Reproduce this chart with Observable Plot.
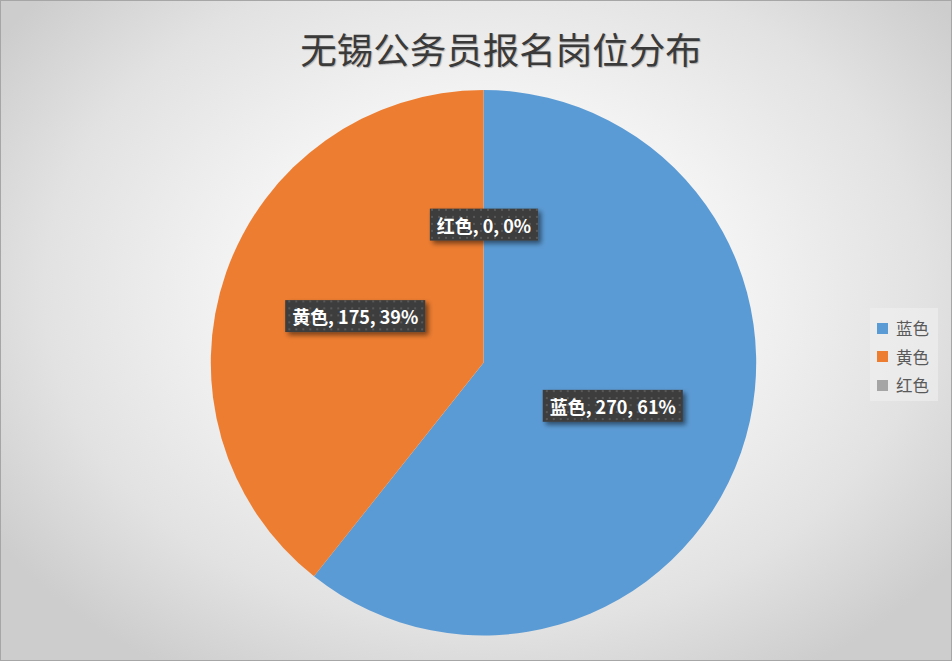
<!DOCTYPE html>
<html><head><meta charset="utf-8">
<script src="https://cdn.jsdelivr.net/npm/d3@7"></script>
<script src="https://cdn.jsdelivr.net/npm/@observablehq/plot@0.6"></script>
<style>
html,body{margin:0;padding:0;background:#fff;}
#chart{position:relative;width:950px;height:659px;border:1px solid #a6a6a6;
  background:radial-gradient(ellipse 62% 68% at 51% 44%, #ffffff 0%, #f7f7f7 35%, #e2e2e2 75%, #cdcdcd 100%);
  overflow:hidden;font-family:"Noto Sans CJK SC",sans-serif;}
#title{position:absolute;top:22px;left:200px;width:600px;text-align:center;font-size:36.5px;line-height:52px;color:#3a3a3a;
  text-shadow:1px 1px 1px rgba(0,0,0,0.25);white-space:nowrap;}
#plot{position:absolute;top:89px;left:-1px;}
#legend{position:absolute;left:869px;top:307px;width:68px;height:93px;background:rgba(240,240,240,0.6);}
.item{position:absolute;left:7px;height:20px;display:flex;align-items:center;font-size:16.5px;color:#595959;}
.sw{width:11px;height:11px;margin-right:8px;}
</style></head>
<body>
<div id="chart">
  <div id="title">无锡公务员报名岗位分布</div>
  <div id="plot"></div>
  <div id="legend"></div>
</div>
<script>
const categories = ["蓝色", "黄色", "红色"];
const values = [270, 175, 0];
const colors = ["#5B9BD5", "#ED7D31", "#A5A5A5"];

const total = d3.sum(values);
const data = categories.map((c, i) => ({category: c, value: values[i], pct: Math.round(values[i] / total * 100)}));
const slices = d3.pie().sort(null).value(d => d.value)(data);
const colorOf = d3.scaleOrdinal(categories, colors);

function pieMark(index, scales) {
  const cx = scales.x(0), cy = scales.y(0), r = scales.x(1) - scales.x(0);
  const arc = d3.arc().innerRadius(0).outerRadius(r);
  const g = d3.create("svg:g").attr("transform", `translate(${cx},${cy})`);
  g.selectAll("path").data(slices.filter(s => s.value > 0)).join("path")
    .attr("d", arc).attr("fill", d => colorOf(d.data.category));
  return g.node();
}

const mid = s => (s.startAngle + s.endAngle) / 2;

const plot = Plot.plot({
  width: 952,
  height: 571,
  x: {domain: [-1, 1], range: [211, 757], axis: null},
  y: {domain: [-1, 1], range: [546, 0], axis: null},
  style: {background: "transparent", fontFamily: "'Noto Sans CJK SC', sans-serif", overflow: "visible"},
  marks: [
    pieMark,
    Plot.text(slices, {
      x: s => 0.5 * Math.sin(mid(s)),
      y: s => 0.5 * Math.cos(mid(s)),
      text: s => `${s.data.category}, ${s.data.value}, ${s.data.pct}%`,
      fill: "white",
      fontSize: 18,
      fontWeight: "bold",
      className: "lbl"
    })
  ]
});
document.getElementById("plot").appendChild(plot);

// label boxes
const svg = d3.select(plot);
const defs = svg.insert("defs", ":first-child");
const pat = defs.append("pattern").attr("id", "dots").attr("width", 7).attr("height", 7).attr("patternUnits", "userSpaceOnUse");
pat.append("rect").attr("width", 7).attr("height", 7).attr("fill", "#3d3d3d");
pat.append("rect").attr("x", 3).attr("y", 3).attr("width", 2).attr("height", 2).attr("fill", "#585858");
const flt = defs.append("filter").attr("id", "shd").attr("x", "-20%").attr("y", "-40%").attr("width", "150%").attr("height", "200%");
flt.append("feDropShadow").attr("dx", 3).attr("dy", 3).attr("stdDeviation", 2.5).attr("flood-color", "#000").attr("flood-opacity", 0.5);

svg.selectAll(".lbl text").each(function() {
  const b = this.getBBox();
  const cy = b.y + b.height / 2;
  const t = this.getAttribute("transform");
  const r = d3.select(this.parentNode).insert("rect", () => this)
    .attr("x", b.x - 7).attr("y", cy - 16).attr("width", b.width + 14).attr("height", 32)
    .attr("fill", "url(#dots)").attr("filter", "url(#shd)");
  if (t) r.attr("transform", t);
});

// legend
const lg = d3.select("#legend");
categories.forEach((c, i) => {
  const it = lg.append("div").attr("class", "item").style("top", (10 + i * 28.5) + "px");
  it.append("div").attr("class", "sw").style("background", colorOf(c));
  it.append("span").text(c);
});
</script>
</body></html>
